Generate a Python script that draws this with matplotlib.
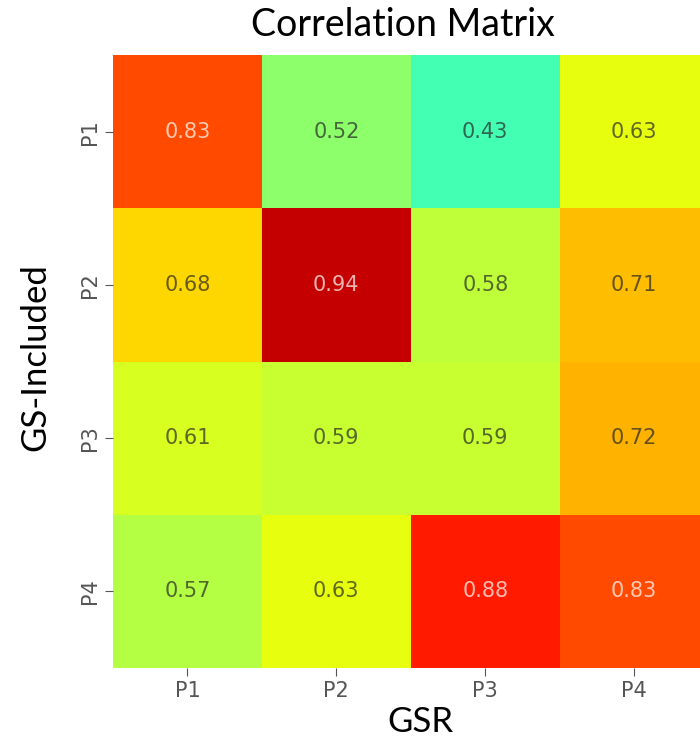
import matplotlib
matplotlib.use("Agg")
import matplotlib.pyplot as plt
import numpy as np
import seaborn as sns

# rows: GS-Included, columns: GSR
row_labels = ['P1', 'P2', 'P3', 'P4']
col_labels = ['P1', 'P2', 'P3', 'P4']
corr = [[0.83, 0.52, 0.43, 0.63],
        [0.68, 0.94, 0.58, 0.71],
        [0.61, 0.59, 0.59, 0.72],
        [0.57, 0.63, 0.88, 0.83]]

fig = plt.figure(figsize=(7, 7.4), dpi=100)
# the map runs a bit past the right edge, as in the original screenshot
ax = fig.add_axes([0.1614, 0.0973, 0.851, 0.828])

sns.heatmap(np.array(corr), ax=ax, cmap='jet', vmin=0, vmax=1, cbar=False,
            annot=True, fmt='.2f', square=False,
            annot_kws={'fontsize': 15, 'alpha': 0.7},
            xticklabels=col_labels, yticklabels=row_labels)

ax.tick_params(axis='both', labelsize=15, colors='#555555', length=6, width=0.8)
plt.setp(ax.get_yticklabels(), rotation=90, va='center')
plt.setp(ax.get_xticklabels(), rotation=0)

fig.text(0.576, 0.966, 'Correlation Matrix', ha='center', va='center',
         fontsize=27, family='Lato')
fig.text(0.6, 0.024, 'GSR', ha='center', va='center',
         fontsize=25, family='Lato')
fig.text(0.051, 0.517, 'GS-Included', ha='center', va='center', rotation=90,
         fontsize=25, family='Lato')

fig.savefig('out.png', dpi=100)
